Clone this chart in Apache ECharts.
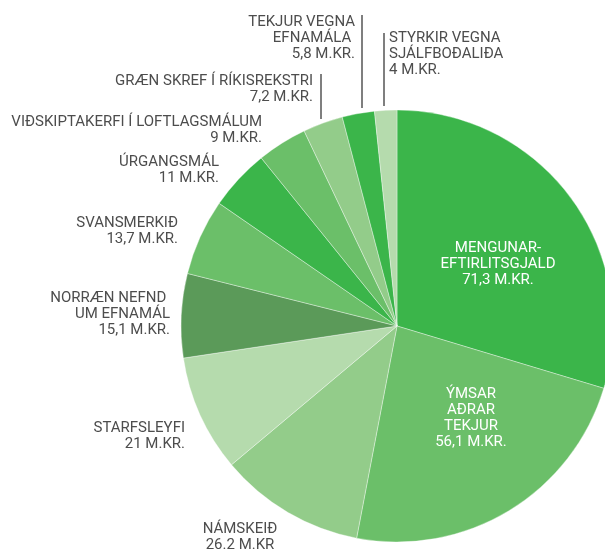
<!DOCTYPE html>
<html>
<head>
<meta charset="utf-8">
<script src="https://cdn.jsdelivr.net/npm/echarts@6/dist/echarts.min.js"></script>
<style>html,body{margin:0;padding:0;background:#fff}#c{width:605px;height:550px}</style>
</head>
<body>
<div id="c"></div>
<script>
// Data
const categories = [
  'MENGUNAR-\nEFTIRLITSGJALD',
  'ÝMSAR\nAÐRAR\nTEKJUR',
  'NÁMSKEIÐ',
  'STARFSLEYFI',
  'NORRÆN NEFND \nUM EFNAMÁL',
  'SVANSMERKIÐ',
  'ÚRGANGSMÁL',
  'VIÐSKIPTAKERFI Í LOFTLAGSMÁLUM',
  'GRÆN SKREF Í RÍKISREKSTRI',
  'TEKJUR VEGNA\nEFNAMÁLA ',
  'STYRKIR VEGNA\nSJÁLFBOÐALIÐA'
];
const values = [71.3, 56.1, 26.2, 21, 15.1, 13.7, 11, 9, 7.2, 5.8, 4];
const valueLabels = ['71,3 M.KR.', '56,1 M.KR.', '26.2 M.KR', '21 M.KR.', '15,1 M.KR.', '13,7 M.KR.', '11 M.KR.', '9 M.KR.', '7,2 M.KR.', '5,8 M.KR.', '4 M.KR.'];

// Styles / layout
const colors = ['#3bb54a', '#6bbf69', '#93cc8a', '#b5dbad', '#5b9a59', '#6bbf69', '#3bb54a', '#6bbf69', '#93cc8a', '#3bb54a', '#b5dbad'];
const labelPos = [
  {x: 498, y: 240, align: 'center', inside: true},
  {x: 471, y: 386, align: 'center', inside: true},
  {x: 240, y: 521, align: 'center'},
  {x: 185, y: 420, align: 'right'},
  {x: 170, y: 290, align: 'right'},
  {x: 178, y: 215, align: 'right'},
  {x: 219, y: 154, align: 'right'},
  {x: 262, y: 114, align: 'right'},
  {x: 313, y: 73, align: 'right'},
  {x: 355, y: 14, align: 'right'},
  {x: 389, y: 30, align: 'left'}
];
const leaders = {8: [[321, 74], [321, 96], [321, 119]], 9: [[362, 15], [362, 60], [362, 108]], 10: [[384, 33], [384, 70], [384, 106]]};

const FONT = 'Roboto, "Liberation Sans Narrow", sans-serif';

const data = categories.map((n, i) => ({
  name: n,
  value: values[i],
  itemStyle: {color: colors[i]},
  label: {color: labelPos[i].inside ? '#ffffff' : '#4d4d4d', align: labelPos[i].align},
  labelLine: {show: !!leaders[i], lineStyle: {color: '#555', width: 1.5}}
}));

const chart = echarts.init(document.getElementById('c'), null, {renderer: 'canvas'});
chart.setOption({
  animation: false,
  series: [{
    type: 'pie',
    center: [397, 326],
    radius: [0, 216],
    startAngle: 90,
    clockwise: true,
    avoidLabelOverlap: false,
    itemStyle: {borderColor: 'rgba(255,255,255,0.6)', borderWidth: 0.6},
    label: {
      show: true,
      position: 'outside',
      fontFamily: FONT,
      fontSize: 15,
      lineHeight: 16,
      formatter: p => p.name + '\n' + valueLabels[p.dataIndex]
    },
    labelLine: {show: false, length: 5, length2: 5},
    labelLayout: p => {
      const lp = labelPos[p.dataIndex];
      const r = {x: lp.x, y: lp.y, align: lp.align, verticalAlign: 'top'};
      if (leaders[p.dataIndex]) r.labelLinePoints = leaders[p.dataIndex];
      return r;
    },
    emphasis: {disabled: true},
    data: data
  }]
});
</script>
</body>
</html>
